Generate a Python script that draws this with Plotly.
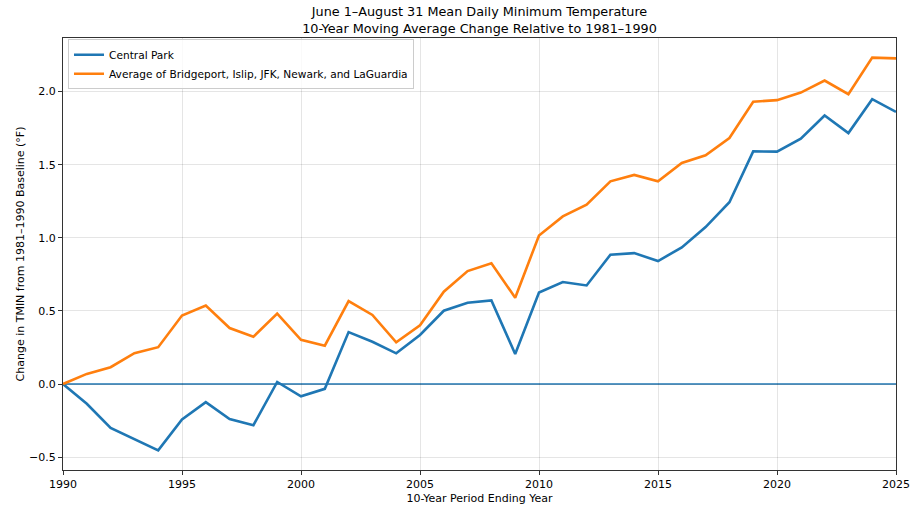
import plotly.graph_objects as go

# 10-year period ending year
years = list(range(1990, 2026))

# Change in mean daily TMIN relative to 1981-1990 baseline (degrees F)
central_park = [
    0.000, -0.135, -0.300, -0.378, -0.454, -0.243, -0.124, -0.239, -0.282, 0.014,
    -0.084, -0.033, 0.355, 0.289, 0.210, 0.335, 0.501, 0.556, 0.572, 0.205,
    0.626, 0.697, 0.674, 0.884, 0.895, 0.841, 0.934, 1.073, 1.243, 1.591,
    1.589, 1.677, 1.836, 1.716, 1.948, 1.861,
]
regional_avg = [
    0.000, 0.069, 0.115, 0.211, 0.252, 0.468, 0.537, 0.383, 0.323, 0.482,
    0.302, 0.262, 0.567, 0.472, 0.285, 0.401, 0.631, 0.772, 0.825, 0.590,
    1.016, 1.146, 1.226, 1.386, 1.430, 1.386, 1.511, 1.564, 1.682, 1.930,
    1.941, 1.993, 2.075, 1.982, 2.232, 2.227,
]

x_ticks = [1990, 1995, 2000, 2005, 2010, 2015, 2020, 2025]
y_ticks = [-0.5, 0.0, 0.5, 1.0, 1.5, 2.0]

blue = "#1f77b4"
orange = "#ff7f0e"

fig = go.Figure()

fig.add_trace(
    go.Scatter(
        x=years, y=central_park, mode="lines", name="Central Park",
        line=dict(color=blue, width=2.6),
    )
)
fig.add_trace(
    go.Scatter(
        x=years, y=regional_avg, mode="lines",
        name="Average of Bridgeport, Islip, JFK, Newark, and LaGuardia",
        line=dict(color=orange, width=2.6),
    )
)

# zero baseline (template shape defaults are semi-transparent, so force opacity)
fig.add_hline(y=0, line=dict(color=blue, width=1.3), opacity=1, layer="below")

fig.update_layout(
    width=923,
    height=509,
    template="simple_white",
    font=dict(family="DejaVu Sans", size=11, color="black"),
    title=dict(
        text="June 1–August 31 Mean Daily Minimum Temperature<br>10-Year Moving Average Change Relative to 1981–1990",
        xref="paper", x=0.5, xanchor="center",
        yref="container", y=0.968, yanchor="top",
        font=dict(size=12.8),
    ),
    margin=dict(l=63, r=27, t=38, b=39, autoexpand=False),
    showlegend=True,
    legend=dict(
        x=0.006, y=0.997, xanchor="left", yanchor="top",
        bgcolor="rgba(255,255,255,0.8)",
        bordercolor="#cccccc", borderwidth=1,
        font=dict(size=10.6),
        itemwidth=30,
        tracegroupgap=0,
    ),
    plot_bgcolor="white",
)

fig.update_xaxes(
    range=[1990, 2025],
    tickvals=x_ticks,
    ticks="outside", ticklen=4, tickcolor="#333333",
    showgrid=True, gridcolor="rgba(0,0,0,0.1)",
    showline=True, linecolor="#333333", linewidth=1,
    mirror=True,
    title=dict(text="10-Year Period Ending Year", standoff=4, font=dict(size=11)),
    zeroline=False,
    automargin=False,
)
fig.update_yaxes(
    range=[-0.588, 2.366],
    tickvals=y_ticks,
    tickformat=".1f",
    ticks="outside", ticklen=4, tickcolor="#333333",
    showgrid=True, gridcolor="rgba(0,0,0,0.1)",
    showline=True, linecolor="#333333", linewidth=1,
    mirror=True,
    title=dict(text="Change in TMIN from 1981–1990 Baseline (°F)", standoff=2, font=dict(size=11)),
    zeroline=False,
    automargin=False,
)

fig.write_html(
    "out.html",
    config={"displayModeBar": False},
    post_script="document.body.style.margin='0';",
)
